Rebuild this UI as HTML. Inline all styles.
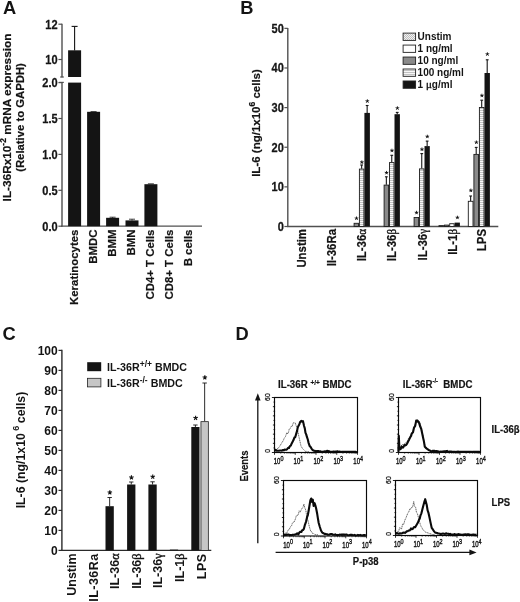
<!DOCTYPE html>
<html><head><meta charset="utf-8"><title>Figure</title>
<style>html,body{margin:0;padding:0;background:#fff;}svg{display:block;will-change:transform;}text{font-family:"Liberation Sans",sans-serif;}</style></head>
<body>
<svg width="520" height="602" viewBox="0 0 520 602">
<rect width="520" height="602" fill="#fff"/>
<defs>
<pattern id="stripe" width="4" height="2" patternUnits="userSpaceOnUse">
  <rect width="4" height="2" fill="#fff"/><rect y="0.2" width="4" height="0.9" fill="#b4b4b4"/>
</pattern>
<pattern id="dots" width="2" height="2" patternUnits="userSpaceOnUse">
  <rect width="2" height="2" fill="#f2f2f2"/><rect width="1" height="1" fill="#bdbdbd"/><rect x="1" y="1" width="1" height="1" fill="#bdbdbd"/>
</pattern>
</defs>
<text font-size="18.3" font-weight="bold" text-anchor="start" fill="#141414" transform="translate(2.9 14.0)" >A</text>
<line x1="62.0" y1="82.4" x2="62.0" y2="226.79999999999998" stroke="#505050" stroke-width="1.4" />
<line x1="62.0" y1="23.8" x2="62.0" y2="77.2" stroke="#505050" stroke-width="1.4" />
<line x1="60.2" y1="77.0" x2="63.8" y2="77.0" stroke="#505050" stroke-width="1.2" />
<line x1="59.2" y1="82.4" x2="63.8" y2="82.4" stroke="#505050" stroke-width="1.2" />
<line x1="58.4" y1="24.2" x2="62.0" y2="24.2" stroke="#505050" stroke-width="1.2" />
<text font-size="12" font-weight="bold" text-anchor="end" fill="#141414" transform="translate(57.6 28.5) scale(0.92 1)"  stroke="#141414" stroke-width="0.25" stroke-linejoin="round">12</text>
<line x1="58.4" y1="59.5" x2="62.0" y2="59.5" stroke="#505050" stroke-width="1.2" />
<text font-size="12" font-weight="bold" text-anchor="end" fill="#141414" transform="translate(57.6 63.8) scale(0.92 1)"  stroke="#141414" stroke-width="0.25" stroke-linejoin="round">10</text>
<line x1="58.4" y1="82.6" x2="62.0" y2="82.6" stroke="#505050" stroke-width="1.2" />
<text font-size="12" font-weight="bold" text-anchor="end" fill="#141414" transform="translate(57.6 86.89999999999999) scale(0.92 1)"  stroke="#141414" stroke-width="0.25" stroke-linejoin="round">2.0</text>
<line x1="58.4" y1="118.5" x2="62.0" y2="118.5" stroke="#505050" stroke-width="1.2" />
<text font-size="12" font-weight="bold" text-anchor="end" fill="#141414" transform="translate(57.6 122.8) scale(0.92 1)"  stroke="#141414" stroke-width="0.25" stroke-linejoin="round">1.5</text>
<line x1="58.4" y1="154.4" x2="62.0" y2="154.4" stroke="#505050" stroke-width="1.2" />
<text font-size="12" font-weight="bold" text-anchor="end" fill="#141414" transform="translate(57.6 158.70000000000002) scale(0.92 1)"  stroke="#141414" stroke-width="0.25" stroke-linejoin="round">1.0</text>
<line x1="58.4" y1="190.3" x2="62.0" y2="190.3" stroke="#505050" stroke-width="1.2" />
<text font-size="12" font-weight="bold" text-anchor="end" fill="#141414" transform="translate(57.6 194.60000000000002) scale(0.92 1)"  stroke="#141414" stroke-width="0.25" stroke-linejoin="round">0.5</text>
<line x1="58.4" y1="226.2" x2="62.0" y2="226.2" stroke="#505050" stroke-width="1.2" />
<text font-size="12" font-weight="bold" text-anchor="end" fill="#141414" transform="translate(57.6 230.5) scale(0.92 1)"  stroke="#141414" stroke-width="0.25" stroke-linejoin="round">0.0</text>
<line x1="61.3" y1="226.2" x2="202" y2="226.2" stroke="#505050" stroke-width="1.3" />
<rect x="68.10" y="50.30" width="13.00" height="26.70" fill="#141414"/>
<rect x="68.10" y="82.60" width="13.00" height="143.60" fill="#141414"/>
<line x1="74.6" y1="26.4" x2="74.6" y2="50.5" stroke="#141414" stroke-width="1.1" />
<line x1="71.6" y1="26.4" x2="77.6" y2="26.4" stroke="#141414" stroke-width="1.1" />
<rect x="87.10" y="111.80" width="13.00" height="114.40" fill="#141414"/>
<line x1="90.6" y1="111.6" x2="96.6" y2="111.6" stroke="#141414" stroke-width="0.8" />
<rect x="106.10" y="217.80" width="13.00" height="8.40" fill="#141414"/>
<line x1="112.6" y1="217.2" x2="112.6" y2="218" stroke="#141414" stroke-width="0.8" />
<line x1="109.6" y1="217.2" x2="115.6" y2="217.2" stroke="#141414" stroke-width="0.8" />
<rect x="125.50" y="220.40" width="13.00" height="5.80" fill="#141414"/>
<line x1="132.0" y1="219.2" x2="132.0" y2="220.6" stroke="#141414" stroke-width="0.8" />
<line x1="129.0" y1="219.2" x2="135.0" y2="219.2" stroke="#141414" stroke-width="0.8" />
<rect x="144.40" y="184.20" width="13.00" height="42.00" fill="#141414"/>
<line x1="147.9" y1="183.8" x2="153.9" y2="183.8" stroke="#141414" stroke-width="0.8" />
<text font-size="11.4" font-weight="bold" text-anchor="end" fill="#141414" transform="translate(78.0 229.6) rotate(-90)"  stroke="#141414" stroke-width="0.2" stroke-linejoin="round">Keratinocytes</text>
<text font-size="11.4" font-weight="bold" text-anchor="end" fill="#141414" transform="translate(97.0 229.6) rotate(-90)"  stroke="#141414" stroke-width="0.2" stroke-linejoin="round">BMDC</text>
<text font-size="11.4" font-weight="bold" text-anchor="end" fill="#141414" transform="translate(116.0 229.6) rotate(-90)"  stroke="#141414" stroke-width="0.2" stroke-linejoin="round">BMM</text>
<text font-size="11.4" font-weight="bold" text-anchor="end" fill="#141414" transform="translate(135.4 229.6) rotate(-90)"  stroke="#141414" stroke-width="0.2" stroke-linejoin="round">BMN</text>
<text font-size="11.4" font-weight="bold" text-anchor="end" fill="#141414" transform="translate(154.3 229.6) rotate(-90)"  stroke="#141414" stroke-width="0.2" stroke-linejoin="round">CD4+ T Cells</text>
<text font-size="11.4" font-weight="bold" text-anchor="end" fill="#141414" transform="translate(173.4 229.6) rotate(-90)"  stroke="#141414" stroke-width="0.2" stroke-linejoin="round">CD8+ T Cells</text>
<text font-size="11.4" font-weight="bold" text-anchor="end" fill="#141414" transform="translate(192.4 229.6) rotate(-90)"  stroke="#141414" stroke-width="0.2" stroke-linejoin="round">B cells</text>
<text font-size="11.8" font-weight="bold" text-anchor="middle" fill="#141414" transform="translate(11.2 117.5) rotate(-90)"  stroke="#141414" stroke-width="0.2" stroke-linejoin="round">IL-36Rx10<tspan font-size="8.5" dy="-5">-2</tspan><tspan dy="5" font-size="1">&#8203;</tspan> mRNA expression</text>
<text font-size="11.3" font-weight="bold" text-anchor="middle" fill="#141414" transform="translate(24.4 117.5) rotate(-90)"  stroke="#141414" stroke-width="0.2" stroke-linejoin="round">(Relative to GAPDH)</text>
<text font-size="18.3" font-weight="bold" text-anchor="start" fill="#141414" transform="translate(240.2 14.0)" >B</text>
<line x1="287.8" y1="28.0" x2="287.8" y2="227.1" stroke="#505050" stroke-width="1.4" />
<line x1="284.40000000000003" y1="226.5" x2="287.8" y2="226.5" stroke="#505050" stroke-width="1.2" />
<text font-size="12" font-weight="bold" text-anchor="end" fill="#141414" transform="translate(283.8 230.8) scale(0.92 1)"  stroke="#141414" stroke-width="0.25" stroke-linejoin="round">0</text>
<line x1="284.40000000000003" y1="186.87" x2="287.8" y2="186.87" stroke="#505050" stroke-width="1.2" />
<text font-size="12" font-weight="bold" text-anchor="end" fill="#141414" transform="translate(283.8 191.17000000000002) scale(0.92 1)"  stroke="#141414" stroke-width="0.25" stroke-linejoin="round">10</text>
<line x1="284.40000000000003" y1="147.24" x2="287.8" y2="147.24" stroke="#505050" stroke-width="1.2" />
<text font-size="12" font-weight="bold" text-anchor="end" fill="#141414" transform="translate(283.8 151.54000000000002) scale(0.92 1)"  stroke="#141414" stroke-width="0.25" stroke-linejoin="round">20</text>
<line x1="284.40000000000003" y1="107.61" x2="287.8" y2="107.61" stroke="#505050" stroke-width="1.2" />
<text font-size="12" font-weight="bold" text-anchor="end" fill="#141414" transform="translate(283.8 111.91) scale(0.92 1)"  stroke="#141414" stroke-width="0.25" stroke-linejoin="round">30</text>
<line x1="284.40000000000003" y1="67.97999999999999" x2="287.8" y2="67.97999999999999" stroke="#505050" stroke-width="1.2" />
<text font-size="12" font-weight="bold" text-anchor="end" fill="#141414" transform="translate(283.8 72.27999999999999) scale(0.92 1)"  stroke="#141414" stroke-width="0.25" stroke-linejoin="round">40</text>
<line x1="284.40000000000003" y1="28.349999999999994" x2="287.8" y2="28.349999999999994" stroke="#505050" stroke-width="1.2" />
<text font-size="12" font-weight="bold" text-anchor="end" fill="#141414" transform="translate(283.8 32.64999999999999) scale(0.92 1)"  stroke="#141414" stroke-width="0.25" stroke-linejoin="round">50</text>
<line x1="287.1" y1="226.5" x2="498.3" y2="226.5" stroke="#505050" stroke-width="1.3" />
<rect x="354.10" y="223.30" width="4.40" height="3.20" fill="#8a8a8a" stroke="#1c1c1c" stroke-width="0.9"/>
<path d="M356.50 218.40L356.50 216.52M356.50 218.40L358.29 217.82M356.50 218.40L357.61 219.92M356.50 218.40L355.39 219.92M356.50 218.40L354.71 217.82" stroke="#141414" stroke-width="0.92" fill="none"/>
<circle cx="356.50" cy="218.40" r="0.72" fill="#141414"/>
<line x1="361.65" y1="165.0" x2="361.65" y2="168.8" stroke="#141414" stroke-width="1.1" />
<line x1="360.25" y1="165.0" x2="363.04999999999995" y2="165.0" stroke="#141414" stroke-width="1.1" />
<rect x="359.40" y="169.10" width="4.50" height="57.40" fill="url(#stripe)" stroke="#1c1c1c" stroke-width="0.9"/>
<path d="M361.85 162.30L361.85 160.42M361.85 162.30L363.64 161.72M361.85 162.30L362.96 163.82M361.85 162.30L360.74 163.82M361.85 162.30L360.06 161.72" stroke="#141414" stroke-width="0.92" fill="none"/>
<circle cx="361.85" cy="162.30" r="0.72" fill="#141414"/>
<line x1="367.15" y1="105.5" x2="367.15" y2="112.9" stroke="#141414" stroke-width="1.1" />
<line x1="365.75" y1="105.5" x2="368.54999999999995" y2="105.5" stroke="#141414" stroke-width="1.1" />
<rect x="364.40" y="112.90" width="5.50" height="113.60" fill="#141414"/>
<path d="M367.35 101.20L367.35 99.32M367.35 101.20L369.14 100.62M367.35 101.20L368.46 102.72M367.35 101.20L366.24 102.72M367.35 101.20L365.56 100.62" stroke="#141414" stroke-width="0.92" fill="none"/>
<circle cx="367.35" cy="101.20" r="0.72" fill="#141414"/>
<line x1="386.35" y1="176.8" x2="386.35" y2="184.8" stroke="#141414" stroke-width="1.1" />
<line x1="384.95000000000005" y1="176.8" x2="387.75" y2="176.8" stroke="#141414" stroke-width="1.1" />
<rect x="384.10" y="185.10" width="4.50" height="41.40" fill="#8a8a8a" stroke="#1c1c1c" stroke-width="0.9"/>
<path d="M386.55 172.80L386.55 170.92M386.55 172.80L388.34 172.22M386.55 172.80L387.66 174.32M386.55 172.80L385.44 174.32M386.55 172.80L384.76 172.22" stroke="#141414" stroke-width="0.92" fill="none"/>
<circle cx="386.55" cy="172.80" r="0.72" fill="#141414"/>
<line x1="391.75" y1="155.3" x2="391.75" y2="162.3" stroke="#141414" stroke-width="1.1" />
<line x1="390.35" y1="155.3" x2="393.15" y2="155.3" stroke="#141414" stroke-width="1.1" />
<rect x="389.50" y="162.60" width="4.50" height="63.90" fill="url(#stripe)" stroke="#1c1c1c" stroke-width="0.9"/>
<path d="M391.95 150.60L391.95 148.72M391.95 150.60L393.74 150.02M391.95 150.60L393.06 152.12M391.95 150.60L390.84 152.12M391.95 150.60L390.16 150.02" stroke="#141414" stroke-width="0.92" fill="none"/>
<circle cx="391.95" cy="150.60" r="0.72" fill="#141414"/>
<line x1="397.2" y1="112.4" x2="397.2" y2="114.2" stroke="#141414" stroke-width="1.1" />
<line x1="395.8" y1="112.4" x2="398.59999999999997" y2="112.4" stroke="#141414" stroke-width="1.1" />
<rect x="394.50" y="114.20" width="5.40" height="112.30" fill="#141414"/>
<path d="M397.40 108.20L397.40 106.32M397.40 108.20L399.19 107.62M397.40 108.20L398.51 109.72M397.40 108.20L396.29 109.72M397.40 108.20L395.61 107.62" stroke="#141414" stroke-width="0.92" fill="none"/>
<circle cx="397.40" cy="108.20" r="0.72" fill="#141414"/>
<rect x="414.10" y="217.50" width="4.50" height="9.00" fill="#8a8a8a" stroke="#1c1c1c" stroke-width="0.9"/>
<path d="M416.55 212.70L416.55 210.82M416.55 212.70L418.34 212.12M416.55 212.70L417.66 214.22M416.55 212.70L415.44 214.22M416.55 212.70L414.76 212.12" stroke="#141414" stroke-width="0.92" fill="none"/>
<circle cx="416.55" cy="212.70" r="0.72" fill="#141414"/>
<line x1="421.75" y1="153.6" x2="421.75" y2="168.6" stroke="#141414" stroke-width="1.1" />
<line x1="420.35" y1="153.6" x2="423.15" y2="153.6" stroke="#141414" stroke-width="1.1" />
<rect x="419.50" y="168.90" width="4.50" height="57.60" fill="url(#stripe)" stroke="#1c1c1c" stroke-width="0.9"/>
<path d="M421.95 149.40L421.95 147.52M421.95 149.40L423.74 148.82M421.95 149.40L423.06 150.92M421.95 149.40L420.84 150.92M421.95 149.40L420.16 148.82" stroke="#141414" stroke-width="0.92" fill="none"/>
<circle cx="421.95" cy="149.40" r="0.72" fill="#141414"/>
<line x1="427.15" y1="141.1" x2="427.15" y2="146.1" stroke="#141414" stroke-width="1.1" />
<line x1="425.75" y1="141.1" x2="428.54999999999995" y2="141.1" stroke="#141414" stroke-width="1.1" />
<rect x="424.50" y="146.10" width="5.30" height="80.40" fill="#141414"/>
<path d="M427.35 136.60L427.35 134.72M427.35 136.60L429.14 136.02M427.35 136.60L428.46 138.12M427.35 136.60L426.24 138.12M427.35 136.60L425.56 136.02" stroke="#141414" stroke-width="0.92" fill="none"/>
<circle cx="427.35" cy="136.60" r="0.72" fill="#141414"/>
<rect x="439.00" y="225.60" width="4.50" height="0.90" fill="#fff" stroke="#1c1c1c" stroke-width="0.9"/>
<rect x="444.40" y="225.10" width="4.40" height="1.40" fill="#8a8a8a" stroke="#1c1c1c" stroke-width="0.9"/>
<rect x="449.70" y="223.70" width="4.40" height="2.80" fill="#fff" stroke="#1c1c1c" stroke-width="0.9"/>
<rect x="454.60" y="222.60" width="5.30" height="3.90" fill="#141414"/>
<path d="M457.45 217.60L457.45 215.72M457.45 217.60L459.24 217.02M457.45 217.60L458.56 219.12M457.45 217.60L456.34 219.12M457.45 217.60L455.66 217.02" stroke="#141414" stroke-width="0.92" fill="none"/>
<circle cx="457.45" cy="217.60" r="0.72" fill="#141414"/>
<line x1="470.65" y1="196.0" x2="470.65" y2="201.0" stroke="#141414" stroke-width="1.1" />
<line x1="469.25" y1="196.0" x2="472.04999999999995" y2="196.0" stroke="#141414" stroke-width="1.1" />
<rect x="468.30" y="201.30" width="4.70" height="25.20" fill="#fff" stroke="#1c1c1c" stroke-width="0.9"/>
<path d="M470.85 190.50L470.85 188.62M470.85 190.50L472.64 189.92M470.85 190.50L471.96 192.02M470.85 190.50L469.74 192.02M470.85 190.50L469.06 189.92" stroke="#141414" stroke-width="0.92" fill="none"/>
<circle cx="470.85" cy="190.50" r="0.72" fill="#141414"/>
<line x1="476.2" y1="147.4" x2="476.2" y2="154.1" stroke="#141414" stroke-width="1.1" />
<line x1="474.8" y1="147.4" x2="477.59999999999997" y2="147.4" stroke="#141414" stroke-width="1.1" />
<rect x="473.90" y="154.40" width="4.60" height="72.10" fill="#8a8a8a" stroke="#1c1c1c" stroke-width="0.9"/>
<path d="M476.40 142.40L476.40 140.52M476.40 142.40L478.19 141.82M476.40 142.40L477.51 143.92M476.40 142.40L475.29 143.92M476.40 142.40L474.61 141.82" stroke="#141414" stroke-width="0.92" fill="none"/>
<circle cx="476.40" cy="142.40" r="0.72" fill="#141414"/>
<line x1="481.7" y1="100.2" x2="481.7" y2="107.2" stroke="#141414" stroke-width="1.1" />
<line x1="480.3" y1="100.2" x2="483.09999999999997" y2="100.2" stroke="#141414" stroke-width="1.1" />
<rect x="479.40" y="107.50" width="4.60" height="119.00" fill="url(#stripe)" stroke="#1c1c1c" stroke-width="0.9"/>
<path d="M481.90 95.60L481.90 93.72M481.90 95.60L483.69 95.02M481.90 95.60L483.01 97.12M481.90 95.60L480.79 97.12M481.90 95.60L480.11 95.02" stroke="#141414" stroke-width="0.92" fill="none"/>
<circle cx="481.90" cy="95.60" r="0.72" fill="#141414"/>
<line x1="487.2" y1="59.8" x2="487.2" y2="73.0" stroke="#141414" stroke-width="1.1" />
<line x1="485.8" y1="59.8" x2="488.59999999999997" y2="59.8" stroke="#141414" stroke-width="1.1" />
<rect x="484.50" y="73.00" width="5.40" height="153.50" fill="#141414"/>
<path d="M487.40 54.20L487.40 52.32M487.40 54.20L489.19 53.62M487.40 54.20L488.51 55.72M487.40 54.20L486.29 55.72M487.40 54.20L485.61 53.62" stroke="#141414" stroke-width="0.92" fill="none"/>
<circle cx="487.40" cy="54.20" r="0.72" fill="#141414"/>
<text font-size="12" font-weight="bold" text-anchor="end" fill="#141414" transform="translate(305.8 229.0) rotate(-90) scale(0.95 1)"  stroke="#141414" stroke-width="0.2" stroke-linejoin="round">Unstim</text>
<text font-size="12" font-weight="bold" text-anchor="end" fill="#141414" transform="translate(335.7 229.0) rotate(-90) scale(0.95 1)"  stroke="#141414" stroke-width="0.2" stroke-linejoin="round">II-36Ra</text>
<text font-size="12" font-weight="bold" text-anchor="end" fill="#141414" transform="translate(366.3 229.0) rotate(-90) scale(0.95 1)"  stroke="#141414" stroke-width="0.2" stroke-linejoin="round">IL-36<tspan font-family="'Liberation Serif', serif" font-weight="normal" font-size="11.6" stroke="#141414" stroke-width="0.4">&#945;</tspan></text>
<text font-size="12" font-weight="bold" text-anchor="end" fill="#141414" transform="translate(396.3 229.0) rotate(-90) scale(0.95 1)"  stroke="#141414" stroke-width="0.2" stroke-linejoin="round">IL-36<tspan font-family="'Liberation Serif', serif" font-weight="normal" font-size="11.6" stroke="#141414" stroke-width="0.4">&#946;</tspan></text>
<text font-size="12" font-weight="bold" text-anchor="end" fill="#141414" transform="translate(426.6 229.0) rotate(-90) scale(0.95 1)"  stroke="#141414" stroke-width="0.2" stroke-linejoin="round">IL-36<tspan font-family="'Liberation Serif', serif" font-weight="normal" font-size="11.6" stroke="#141414" stroke-width="0.4">&#947;</tspan></text>
<text font-size="12" font-weight="bold" text-anchor="end" fill="#141414" transform="translate(456.5 229.0) rotate(-90) scale(0.95 1)"  stroke="#141414" stroke-width="0.2" stroke-linejoin="round">IL-1<tspan font-family="'Liberation Serif', serif" font-weight="normal" font-size="11.6" stroke="#141414" stroke-width="0.4">&#946;</tspan></text>
<text font-size="12" font-weight="bold" text-anchor="end" fill="#141414" transform="translate(486.3 229.0) rotate(-90) scale(0.95 1)"  stroke="#141414" stroke-width="0.2" stroke-linejoin="round">LPS</text>
<text font-size="11.5" font-weight="bold" text-anchor="middle" fill="#141414" transform="translate(259.6 123) rotate(-90)"  stroke="#141414" stroke-width="0.2" stroke-linejoin="round">IL-6 (ng/1x10<tspan font-size="8.5" dy="-5">6</tspan><tspan dy="5" font-size="1">&#8203;</tspan> cells)</text>
<rect x="403.10" y="33.10" width="12.50" height="7.30" fill="url(#dots)" stroke="#222" stroke-width="0.9"/>
<text font-size="10" font-weight="bold" text-anchor="start" fill="#141414" transform="translate(417.6 40.300000000000004)" >Unstim</text>
<rect x="403.10" y="45.07" width="12.50" height="7.30" fill="#fff" stroke="#222" stroke-width="0.9"/>
<text font-size="10" font-weight="bold" text-anchor="start" fill="#141414" transform="translate(417.6 52.27)" >1 ng/ml</text>
<rect x="403.10" y="57.04" width="12.50" height="7.30" fill="#8a8a8a" stroke="#222" stroke-width="0.9"/>
<text font-size="10" font-weight="bold" text-anchor="start" fill="#141414" transform="translate(417.6 64.24)" >10 ng/ml</text>
<rect x="403.10" y="69.01" width="12.50" height="7.30" fill="url(#stripe)" stroke="#222" stroke-width="0.9"/>
<text font-size="10" font-weight="bold" text-anchor="start" fill="#141414" transform="translate(417.6 76.21000000000001)" >100 ng/ml</text>
<rect x="403.10" y="80.98" width="12.50" height="7.30" fill="#141414" stroke="#222" stroke-width="0.9"/>
<text font-size="10" font-weight="bold" text-anchor="start" fill="#141414" transform="translate(417.6 88.18)" >1 <tspan font-family="'Liberation Serif', serif" font-weight="normal" font-size="11" stroke="#141414" stroke-width="0.4">&#956;</tspan>g/ml</text>
<text font-size="18.3" font-weight="bold" text-anchor="start" fill="#141414" transform="translate(2.6 340.3)" >C</text>
<line x1="61.9" y1="349.8" x2="61.9" y2="551.0" stroke="#2a2a2a" stroke-width="1.4" />
<line x1="58.5" y1="550.4" x2="61.9" y2="550.4" stroke="#2a2a2a" stroke-width="1.2" />
<text font-size="12" font-weight="bold" text-anchor="end" fill="#141414" transform="translate(57.699999999999996 554.6999999999999)" >0</text>
<line x1="58.5" y1="530.4" x2="61.9" y2="530.4" stroke="#2a2a2a" stroke-width="1.2" />
<text font-size="12" font-weight="bold" text-anchor="end" fill="#141414" transform="translate(57.699999999999996 534.6999999999999)" >10</text>
<line x1="58.5" y1="510.4" x2="61.9" y2="510.4" stroke="#2a2a2a" stroke-width="1.2" />
<text font-size="12" font-weight="bold" text-anchor="end" fill="#141414" transform="translate(57.699999999999996 514.6999999999999)" >20</text>
<line x1="58.5" y1="490.4" x2="61.9" y2="490.4" stroke="#2a2a2a" stroke-width="1.2" />
<text font-size="12" font-weight="bold" text-anchor="end" fill="#141414" transform="translate(57.699999999999996 494.7)" >30</text>
<line x1="58.5" y1="470.4" x2="61.9" y2="470.4" stroke="#2a2a2a" stroke-width="1.2" />
<text font-size="12" font-weight="bold" text-anchor="end" fill="#141414" transform="translate(57.699999999999996 474.7)" >40</text>
<line x1="58.5" y1="450.4" x2="61.9" y2="450.4" stroke="#2a2a2a" stroke-width="1.2" />
<text font-size="12" font-weight="bold" text-anchor="end" fill="#141414" transform="translate(57.699999999999996 454.7)" >50</text>
<line x1="58.5" y1="430.4" x2="61.9" y2="430.4" stroke="#2a2a2a" stroke-width="1.2" />
<text font-size="12" font-weight="bold" text-anchor="end" fill="#141414" transform="translate(57.699999999999996 434.7)" >60</text>
<line x1="58.5" y1="410.4" x2="61.9" y2="410.4" stroke="#2a2a2a" stroke-width="1.2" />
<text font-size="12" font-weight="bold" text-anchor="end" fill="#141414" transform="translate(57.699999999999996 414.7)" >70</text>
<line x1="58.5" y1="390.4" x2="61.9" y2="390.4" stroke="#2a2a2a" stroke-width="1.2" />
<text font-size="12" font-weight="bold" text-anchor="end" fill="#141414" transform="translate(57.699999999999996 394.7)" >80</text>
<line x1="58.5" y1="370.4" x2="61.9" y2="370.4" stroke="#2a2a2a" stroke-width="1.2" />
<text font-size="12" font-weight="bold" text-anchor="end" fill="#141414" transform="translate(57.699999999999996 374.7)" >90</text>
<line x1="58.5" y1="350.4" x2="61.9" y2="350.4" stroke="#2a2a2a" stroke-width="1.2" />
<text font-size="12" font-weight="bold" text-anchor="end" fill="#141414" transform="translate(57.699999999999996 354.7)" >100</text>
<line x1="61.199999999999996" y1="550.4" x2="211.3" y2="550.4" stroke="#2a2a2a" stroke-width="1.3" />
<line x1="109.65" y1="497.5" x2="109.65" y2="506.2" stroke="#141414" stroke-width="0.9" />
<line x1="107.45" y1="497.5" x2="111.85000000000001" y2="497.5" stroke="#141414" stroke-width="0.9" />
<rect x="105.50" y="506.20" width="8.30" height="44.20" fill="#141414"/>
<path d="M109.85 492.50L109.85 490.15M109.85 492.50L112.08 491.77M109.85 492.50L111.23 494.40M109.85 492.50L108.47 494.40M109.85 492.50L107.62 491.77" stroke="#141414" stroke-width="1.15" fill="none"/>
<circle cx="109.85" cy="492.50" r="0.90" fill="#141414"/>
<line x1="131.25" y1="482.0" x2="131.25" y2="484.5" stroke="#141414" stroke-width="0.9" />
<line x1="129.05" y1="482.0" x2="133.45" y2="482.0" stroke="#141414" stroke-width="0.9" />
<rect x="127.10" y="484.50" width="8.30" height="65.90" fill="#141414"/>
<path d="M131.45 477.50L131.45 475.15M131.45 477.50L133.68 476.77M131.45 477.50L132.83 479.40M131.45 477.50L130.07 479.40M131.45 477.50L129.22 476.77" stroke="#141414" stroke-width="1.15" fill="none"/>
<circle cx="131.45" cy="477.50" r="0.90" fill="#141414"/>
<line x1="152.55" y1="481.8" x2="152.55" y2="484.5" stroke="#141414" stroke-width="0.9" />
<line x1="150.35000000000002" y1="481.8" x2="154.75" y2="481.8" stroke="#141414" stroke-width="0.9" />
<rect x="148.40" y="484.50" width="8.30" height="65.90" fill="#141414"/>
<path d="M152.75 476.80L152.75 474.45M152.75 476.80L154.98 476.07M152.75 476.80L154.13 478.70M152.75 476.80L151.37 478.70M152.75 476.80L150.52 476.07" stroke="#141414" stroke-width="1.15" fill="none"/>
<circle cx="152.75" cy="476.80" r="0.90" fill="#141414"/>
<rect x="169.90" y="549.60" width="8.20" height="0.80" fill="#141414"/>
<line x1="195.4" y1="425.0" x2="195.4" y2="427.0" stroke="#141414" stroke-width="0.9" />
<line x1="193.20000000000002" y1="425.0" x2="197.6" y2="425.0" stroke="#141414" stroke-width="0.9" />
<rect x="191.30" y="427.00" width="8.20" height="123.40" fill="#141414"/>
<path d="M195.60 418.00L195.60 415.65M195.60 418.00L197.83 417.27M195.60 418.00L196.98 419.90M195.60 418.00L194.22 419.90M195.60 418.00L193.37 417.27" stroke="#141414" stroke-width="1.15" fill="none"/>
<circle cx="195.60" cy="418.00" r="0.90" fill="#141414"/>
<line x1="204.64999999999998" y1="383.0" x2="204.64999999999998" y2="421.3" stroke="#141414" stroke-width="0.9" />
<line x1="202.45" y1="383.0" x2="206.84999999999997" y2="383.0" stroke="#141414" stroke-width="0.9" />
<rect x="200.95" y="421.65" width="7.40" height="128.75" fill="#c6c6c6" stroke="#222" stroke-width="0.8"/>
<path d="M204.85 377.50L204.85 375.15M204.85 377.50L207.08 376.77M204.85 377.50L206.23 379.40M204.85 377.50L203.47 379.40M204.85 377.50L202.62 376.77" stroke="#141414" stroke-width="1.15" fill="none"/>
<circle cx="204.85" cy="377.50" r="0.90" fill="#141414"/>
<text font-size="12.5" font-weight="bold" text-anchor="end" fill="#141414" transform="translate(75.9 553.4) rotate(-90)" >Unstim</text>
<text font-size="12.5" font-weight="bold" text-anchor="end" fill="#141414" transform="translate(97.7 553.4) rotate(-90)" ><tspan letter-spacing="0.45">IL-36Ra</tspan></text>
<text font-size="12.5" font-weight="bold" text-anchor="end" fill="#141414" transform="translate(118.80000000000001 553.4) rotate(-90)" >IL-36<tspan font-family="'Liberation Serif', serif" font-weight="normal" font-size="12.3" stroke="#141414" stroke-width="0.4">&#945;</tspan></text>
<text font-size="12.5" font-weight="bold" text-anchor="end" fill="#141414" transform="translate(140.6 553.4) rotate(-90)" >IL-36<tspan font-family="'Liberation Serif', serif" font-weight="normal" font-size="12.3" stroke="#141414" stroke-width="0.4">&#946;</tspan></text>
<text font-size="12.5" font-weight="bold" text-anchor="end" fill="#141414" transform="translate(161.6 553.4) rotate(-90)" >IL-36<tspan font-family="'Liberation Serif', serif" font-weight="normal" font-size="12.3" stroke="#141414" stroke-width="0.4">&#947;</tspan></text>
<text font-size="12.5" font-weight="bold" text-anchor="end" fill="#141414" transform="translate(183.9 553.4) rotate(-90)" >IL-1<tspan font-family="'Liberation Serif', serif" font-weight="normal" font-size="12.3" stroke="#141414" stroke-width="0.4">&#946;</tspan></text>
<text font-size="12.5" font-weight="bold" text-anchor="end" fill="#141414" transform="translate(205.70000000000002 553.4) rotate(-90)" ><tspan letter-spacing="0.5">LPS</tspan></text>
<text font-size="12.3" font-weight="bold" text-anchor="middle" fill="#141414" transform="translate(24.9 450) rotate(-90)" >IL-6 (ng/1x10<tspan font-size="9" dy="-5.5"> 6 </tspan><tspan dy="5.5" font-size="1">&#8203;</tspan>cells)</text>
<rect x="87.20" y="362.20" width="14.00" height="9.00" fill="#141414"/>
<rect x="87.50" y="378.30" width="13.40" height="8.60" fill="#c6c6c6" stroke="#222" stroke-width="0.8"/>
<text font-size="10.7" font-weight="bold" text-anchor="start" fill="#141414" transform="translate(107 370.6)" >IL-36R<tspan font-size="8.5" dy="-4">+/+</tspan><tspan dy="4" font-size="1">&#8203;</tspan> BMDC</text>
<text font-size="10.7" font-weight="bold" text-anchor="start" fill="#141414" transform="translate(107 386.8)" >IL-36R<tspan font-size="8.5" dy="-4">-/-</tspan><tspan dy="4" font-size="1">&#8203;</tspan> BMDC</text>
<text font-size="18.3" font-weight="bold" text-anchor="start" fill="#141414" transform="translate(235.6 340.3)" >D</text>
<text font-size="10.8" font-weight="bold" text-anchor="start" fill="#141414" transform="translate(278.0 387.7) scale(0.9 1)"  stroke="#141414" stroke-width="0.2" stroke-linejoin="round">IL-36R <tspan font-size="7.2" dy="-2.4">+/+</tspan><tspan dy="2.4" font-size="1">&#8203;</tspan> BMDC</text>
<text font-size="10.8" font-weight="bold" text-anchor="start" fill="#141414" transform="translate(402.8 387.6) scale(0.9 1)"  stroke="#141414" stroke-width="0.2" stroke-linejoin="round">IL-36R<tspan font-size="6.4" dy="-4.2">-/-</tspan><tspan dy="4.2" font-size="1">&#8203;</tspan>&#160; BMDC</text>
<text font-size="10.8" font-weight="bold" text-anchor="start" fill="#141414" transform="translate(491.6 433.2) scale(0.88 1)"  stroke="#141414" stroke-width="0.2" stroke-linejoin="round">IL-36&#946;</text>
<text font-size="10.8" font-weight="bold" text-anchor="start" fill="#141414" transform="translate(491.6 505.8) scale(0.88 1)"  stroke="#141414" stroke-width="0.2" stroke-linejoin="round">LPS</text>
<text font-size="10.8" font-weight="bold" text-anchor="start" fill="#141414" transform="translate(352.8 565.4) scale(0.88 1)"  stroke="#141414" stroke-width="0.2" stroke-linejoin="round">P-p38</text>
<text font-size="10.8" font-weight="bold" text-anchor="middle" fill="#141414" transform="translate(247.8 466) rotate(-90) scale(0.88 1)"  stroke="#141414" stroke-width="0.2" stroke-linejoin="round">Events</text>
<line x1="257.8" y1="543.3" x2="257.8" y2="398" stroke="#141414" stroke-width="1.3" />
<polygon points="257.8,393.3 255.0,400.5 260.6,400.5" fill="#141414"/>
<line x1="275.6" y1="552.4" x2="471" y2="552.4" stroke="#141414" stroke-width="1.3" />
<polygon points="476.6,552.4 469.4,549.6 469.4,555.2" fill="#141414"/>
<rect x="274.5" y="397.5" width="83.0" height="55.0" fill="none" stroke="#0a0a0a" stroke-width="1.15"/>
<line x1="271.9" y1="452.5" x2="275.1" y2="452.5" stroke="#0a0a0a" stroke-width="0.9" />
<line x1="273.5" y1="447.9166666666667" x2="275.1" y2="447.9166666666667" stroke="#0a0a0a" stroke-width="0.9" />
<line x1="272.9" y1="443.3333333333333" x2="275.1" y2="443.3333333333333" stroke="#0a0a0a" stroke-width="0.9" />
<line x1="273.5" y1="438.75" x2="275.1" y2="438.75" stroke="#0a0a0a" stroke-width="0.9" />
<line x1="272.9" y1="434.1666666666667" x2="275.1" y2="434.1666666666667" stroke="#0a0a0a" stroke-width="0.9" />
<line x1="273.5" y1="429.5833333333333" x2="275.1" y2="429.5833333333333" stroke="#0a0a0a" stroke-width="0.9" />
<line x1="272.9" y1="425.0" x2="275.1" y2="425.0" stroke="#0a0a0a" stroke-width="0.9" />
<line x1="273.5" y1="420.4166666666667" x2="275.1" y2="420.4166666666667" stroke="#0a0a0a" stroke-width="0.9" />
<line x1="272.9" y1="415.8333333333333" x2="275.1" y2="415.8333333333333" stroke="#0a0a0a" stroke-width="0.9" />
<line x1="273.5" y1="411.25" x2="275.1" y2="411.25" stroke="#0a0a0a" stroke-width="0.9" />
<line x1="272.9" y1="406.6666666666667" x2="275.1" y2="406.6666666666667" stroke="#0a0a0a" stroke-width="0.9" />
<line x1="273.5" y1="402.0833333333333" x2="275.1" y2="402.0833333333333" stroke="#0a0a0a" stroke-width="0.9" />
<line x1="271.9" y1="397.5" x2="275.1" y2="397.5" stroke="#0a0a0a" stroke-width="0.9" />
<line x1="280.7463724100276" y1="452.5" x2="280.7463724100276" y2="453.8" stroke="#0a0a0a" stroke-width="0.55" />
<line x1="284.400266035433" y1="452.5" x2="284.400266035433" y2="453.8" stroke="#0a0a0a" stroke-width="0.55" />
<line x1="286.99274482005524" y1="452.5" x2="286.99274482005524" y2="453.8" stroke="#0a0a0a" stroke-width="0.55" />
<line x1="289.0036275899724" y1="452.5" x2="289.0036275899724" y2="453.8" stroke="#0a0a0a" stroke-width="0.55" />
<line x1="290.6466384454606" y1="452.5" x2="290.6466384454606" y2="453.8" stroke="#0a0a0a" stroke-width="0.55" />
<line x1="292.0357843302958" y1="452.5" x2="292.0357843302958" y2="453.8" stroke="#0a0a0a" stroke-width="0.55" />
<line x1="293.23911723008285" y1="452.5" x2="293.23911723008285" y2="453.8" stroke="#0a0a0a" stroke-width="0.55" />
<line x1="294.300532070866" y1="452.5" x2="294.300532070866" y2="453.8" stroke="#0a0a0a" stroke-width="0.55" />
<line x1="301.4963724100276" y1="452.5" x2="301.4963724100276" y2="453.8" stroke="#0a0a0a" stroke-width="0.55" />
<line x1="305.150266035433" y1="452.5" x2="305.150266035433" y2="453.8" stroke="#0a0a0a" stroke-width="0.55" />
<line x1="307.74274482005524" y1="452.5" x2="307.74274482005524" y2="453.8" stroke="#0a0a0a" stroke-width="0.55" />
<line x1="309.7536275899724" y1="452.5" x2="309.7536275899724" y2="453.8" stroke="#0a0a0a" stroke-width="0.55" />
<line x1="311.3966384454606" y1="452.5" x2="311.3966384454606" y2="453.8" stroke="#0a0a0a" stroke-width="0.55" />
<line x1="312.7857843302958" y1="452.5" x2="312.7857843302958" y2="453.8" stroke="#0a0a0a" stroke-width="0.55" />
<line x1="313.9891172300828" y1="452.5" x2="313.9891172300828" y2="453.8" stroke="#0a0a0a" stroke-width="0.55" />
<line x1="315.050532070866" y1="452.5" x2="315.050532070866" y2="453.8" stroke="#0a0a0a" stroke-width="0.55" />
<line x1="322.2463724100276" y1="452.5" x2="322.2463724100276" y2="453.8" stroke="#0a0a0a" stroke-width="0.55" />
<line x1="325.900266035433" y1="452.5" x2="325.900266035433" y2="453.8" stroke="#0a0a0a" stroke-width="0.55" />
<line x1="328.49274482005524" y1="452.5" x2="328.49274482005524" y2="453.8" stroke="#0a0a0a" stroke-width="0.55" />
<line x1="330.5036275899724" y1="452.5" x2="330.5036275899724" y2="453.8" stroke="#0a0a0a" stroke-width="0.55" />
<line x1="332.1466384454606" y1="452.5" x2="332.1466384454606" y2="453.8" stroke="#0a0a0a" stroke-width="0.55" />
<line x1="333.5357843302958" y1="452.5" x2="333.5357843302958" y2="453.8" stroke="#0a0a0a" stroke-width="0.55" />
<line x1="334.73911723008285" y1="452.5" x2="334.73911723008285" y2="453.8" stroke="#0a0a0a" stroke-width="0.55" />
<line x1="335.800532070866" y1="452.5" x2="335.800532070866" y2="453.8" stroke="#0a0a0a" stroke-width="0.55" />
<line x1="342.9963724100276" y1="452.5" x2="342.9963724100276" y2="453.8" stroke="#0a0a0a" stroke-width="0.55" />
<line x1="346.650266035433" y1="452.5" x2="346.650266035433" y2="453.8" stroke="#0a0a0a" stroke-width="0.55" />
<line x1="349.24274482005524" y1="452.5" x2="349.24274482005524" y2="453.8" stroke="#0a0a0a" stroke-width="0.55" />
<line x1="351.2536275899724" y1="452.5" x2="351.2536275899724" y2="453.8" stroke="#0a0a0a" stroke-width="0.55" />
<line x1="352.8966384454606" y1="452.5" x2="352.8966384454606" y2="453.8" stroke="#0a0a0a" stroke-width="0.55" />
<line x1="354.2857843302958" y1="452.5" x2="354.2857843302958" y2="453.8" stroke="#0a0a0a" stroke-width="0.55" />
<line x1="355.4891172300828" y1="452.5" x2="355.4891172300828" y2="453.8" stroke="#0a0a0a" stroke-width="0.55" />
<line x1="356.550532070866" y1="452.5" x2="356.550532070866" y2="453.8" stroke="#0a0a0a" stroke-width="0.55" />
<line x1="274.5" y1="452.5" x2="274.5" y2="454.8" stroke="#0a0a0a" stroke-width="0.8" />
<text font-size="8.6" fill="#141414" stroke="#141414" stroke-width="0.4" transform="translate(273.7 464.1) scale(0.7 1)">10<tspan font-size="7.8" dy="-3.3">0</tspan></text>
<line x1="295.25" y1="452.5" x2="295.25" y2="454.8" stroke="#0a0a0a" stroke-width="0.8" />
<text font-size="8.6" fill="#141414" stroke="#141414" stroke-width="0.4" transform="translate(293.6 464.1) scale(0.7 1)">10<tspan font-size="7.8" dy="-3.3">1</tspan></text>
<line x1="316.0" y1="452.5" x2="316.0" y2="454.8" stroke="#0a0a0a" stroke-width="0.8" />
<text font-size="8.6" fill="#141414" stroke="#141414" stroke-width="0.4" transform="translate(313.5 464.1) scale(0.7 1)">10<tspan font-size="7.8" dy="-3.3">2</tspan></text>
<line x1="336.75" y1="452.5" x2="336.75" y2="454.8" stroke="#0a0a0a" stroke-width="0.8" />
<text font-size="8.6" fill="#141414" stroke="#141414" stroke-width="0.4" transform="translate(333.4 464.1) scale(0.7 1)">10<tspan font-size="7.8" dy="-3.3">3</tspan></text>
<line x1="357.5" y1="452.5" x2="357.5" y2="454.8" stroke="#0a0a0a" stroke-width="0.8" />
<text font-size="8.6" fill="#141414" stroke="#141414" stroke-width="0.4" transform="translate(353.3 464.1) scale(0.7 1)">10<tspan font-size="7.8" dy="-3.3">4</tspan></text>
<text font-size="8" font-weight="normal" text-anchor="middle" fill="#141414" transform="translate(270.1 397.1) rotate(-90) scale(0.85 1)"  stroke="#141414" stroke-width="0.3" stroke-linejoin="round">60</text>
<text font-size="8" font-weight="normal" text-anchor="middle" fill="#141414" transform="translate(270.1 450.9) rotate(-90) scale(0.85 1)"  stroke="#141414" stroke-width="0.3" stroke-linejoin="round">0</text>
<polyline points="275.0,451.9 276.0,450.5 277.0,449.1 278.0,448.1 279.0,447.4 279.8,446.1 280.5,444.9 281.2,443.9 282.0,442.4 283.2,440.8 284.3,438.0 285.5,436.5 286.8,432.6 287.7,433.9 288.6,432.1 289.2,429.0 290.2,428.5 291.0,426.5 292.2,426.3 293.2,422.8 294.3,422.8 295.3,423.0 296.2,426.0 297.2,428.0 298.0,432.4 299.0,437.0 300.0,441.6 301.0,446.1 301.8,447.4 302.5,448.5 303.2,449.3 304.0,449.8 304.8,450.6 305.5,451.6 306.4,451.3 307.2,451.7 308.1,451.5 309.0,452.0" fill="none" stroke="#3c3c3c" stroke-width="0.8" stroke-linejoin="round" stroke-dasharray="1.2 0.6"/>
<polyline points="274.8,450.0 275.6,449.8 276.5,450.8 277.3,450.8 278.2,450.8 279.0,450.7 280.0,450.5 281.0,450.5 282.0,450.6 283.0,450.0 283.9,450.4 284.7,449.5 285.5,449.8 286.4,449.8 287.3,448.9 288.1,447.9 289.0,448.0 289.9,446.1 290.8,445.6 291.7,443.4 292.6,441.7 293.5,440.1 294.4,437.5 295.2,437.2 296.1,434.1 297.0,431.1 297.8,427.4 298.6,425.6 299.3,424.5 300.0,422.3 301.2,420.9 302.2,421.7 303.0,421.1 304.0,425.8 304.8,428.4 305.5,432.9 306.2,434.4 307.0,437.2 307.8,439.5 308.5,442.6 309.7,446.2 310.6,446.9 311.5,448.6 312.3,449.6 313.2,450.4 314.0,450.8 315.0,450.9 316.0,451.3 317.0,451.0 318.0,451.4 318.8,451.0 319.7,451.7 320.5,451.3 321.3,451.9 322.2,451.9 323.0,451.9 324.0,451.5 325.0,451.3 326.0,451.5 327.0,450.8 328.0,451.0 329.0,451.2 330.0,451.9 331.0,451.7 331.8,451.9 332.7,451.9 333.5,451.6 334.3,451.8 335.2,451.6 336.0,451.8 336.9,451.4 337.8,451.4 338.7,451.7 339.6,451.6 340.5,451.7 341.4,451.9 342.3,451.9 343.2,451.9 344.1,451.9 345.0,451.9 345.9,451.9 346.8,451.9 347.7,451.9 348.6,451.9 349.5,451.9 350.4,451.9 351.4,451.9 352.3,451.9 353.2,451.9 354.1,451.9 355.0,451.9 355.9,451.9 356.8,452.3" fill="none" stroke="#0a0a0a" stroke-width="2.1" stroke-linejoin="round"/>
<rect x="398.5" y="397.5" width="82.0" height="55.0" fill="none" stroke="#0a0a0a" stroke-width="1.15"/>
<line x1="395.9" y1="452.5" x2="399.1" y2="452.5" stroke="#0a0a0a" stroke-width="0.9" />
<line x1="397.5" y1="447.9166666666667" x2="399.1" y2="447.9166666666667" stroke="#0a0a0a" stroke-width="0.9" />
<line x1="396.9" y1="443.3333333333333" x2="399.1" y2="443.3333333333333" stroke="#0a0a0a" stroke-width="0.9" />
<line x1="397.5" y1="438.75" x2="399.1" y2="438.75" stroke="#0a0a0a" stroke-width="0.9" />
<line x1="396.9" y1="434.1666666666667" x2="399.1" y2="434.1666666666667" stroke="#0a0a0a" stroke-width="0.9" />
<line x1="397.5" y1="429.5833333333333" x2="399.1" y2="429.5833333333333" stroke="#0a0a0a" stroke-width="0.9" />
<line x1="396.9" y1="425.0" x2="399.1" y2="425.0" stroke="#0a0a0a" stroke-width="0.9" />
<line x1="397.5" y1="420.4166666666667" x2="399.1" y2="420.4166666666667" stroke="#0a0a0a" stroke-width="0.9" />
<line x1="396.9" y1="415.8333333333333" x2="399.1" y2="415.8333333333333" stroke="#0a0a0a" stroke-width="0.9" />
<line x1="397.5" y1="411.25" x2="399.1" y2="411.25" stroke="#0a0a0a" stroke-width="0.9" />
<line x1="396.9" y1="406.6666666666667" x2="399.1" y2="406.6666666666667" stroke="#0a0a0a" stroke-width="0.9" />
<line x1="397.5" y1="402.0833333333333" x2="399.1" y2="402.0833333333333" stroke="#0a0a0a" stroke-width="0.9" />
<line x1="395.9" y1="397.5" x2="399.1" y2="397.5" stroke="#0a0a0a" stroke-width="0.9" />
<line x1="404.6711149111116" y1="452.5" x2="404.6711149111116" y2="453.8" stroke="#0a0a0a" stroke-width="0.55" />
<line x1="408.2809857217531" y1="452.5" x2="408.2809857217531" y2="453.8" stroke="#0a0a0a" stroke-width="0.55" />
<line x1="410.8422298222232" y1="452.5" x2="410.8422298222232" y2="453.8" stroke="#0a0a0a" stroke-width="0.55" />
<line x1="412.8288850888884" y1="452.5" x2="412.8288850888884" y2="453.8" stroke="#0a0a0a" stroke-width="0.55" />
<line x1="414.4521006328647" y1="452.5" x2="414.4521006328647" y2="453.8" stroke="#0a0a0a" stroke-width="0.55" />
<line x1="415.8245098202923" y1="452.5" x2="415.8245098202923" y2="453.8" stroke="#0a0a0a" stroke-width="0.55" />
<line x1="417.01334473333486" y1="452.5" x2="417.01334473333486" y2="453.8" stroke="#0a0a0a" stroke-width="0.55" />
<line x1="418.06197144350614" y1="452.5" x2="418.06197144350614" y2="453.8" stroke="#0a0a0a" stroke-width="0.55" />
<line x1="425.1711149111116" y1="452.5" x2="425.1711149111116" y2="453.8" stroke="#0a0a0a" stroke-width="0.55" />
<line x1="428.7809857217531" y1="452.5" x2="428.7809857217531" y2="453.8" stroke="#0a0a0a" stroke-width="0.55" />
<line x1="431.3422298222232" y1="452.5" x2="431.3422298222232" y2="453.8" stroke="#0a0a0a" stroke-width="0.55" />
<line x1="433.3288850888884" y1="452.5" x2="433.3288850888884" y2="453.8" stroke="#0a0a0a" stroke-width="0.55" />
<line x1="434.9521006328647" y1="452.5" x2="434.9521006328647" y2="453.8" stroke="#0a0a0a" stroke-width="0.55" />
<line x1="436.3245098202923" y1="452.5" x2="436.3245098202923" y2="453.8" stroke="#0a0a0a" stroke-width="0.55" />
<line x1="437.51334473333486" y1="452.5" x2="437.51334473333486" y2="453.8" stroke="#0a0a0a" stroke-width="0.55" />
<line x1="438.56197144350614" y1="452.5" x2="438.56197144350614" y2="453.8" stroke="#0a0a0a" stroke-width="0.55" />
<line x1="445.6711149111116" y1="452.5" x2="445.6711149111116" y2="453.8" stroke="#0a0a0a" stroke-width="0.55" />
<line x1="449.2809857217531" y1="452.5" x2="449.2809857217531" y2="453.8" stroke="#0a0a0a" stroke-width="0.55" />
<line x1="451.8422298222232" y1="452.5" x2="451.8422298222232" y2="453.8" stroke="#0a0a0a" stroke-width="0.55" />
<line x1="453.8288850888884" y1="452.5" x2="453.8288850888884" y2="453.8" stroke="#0a0a0a" stroke-width="0.55" />
<line x1="455.4521006328647" y1="452.5" x2="455.4521006328647" y2="453.8" stroke="#0a0a0a" stroke-width="0.55" />
<line x1="456.8245098202923" y1="452.5" x2="456.8245098202923" y2="453.8" stroke="#0a0a0a" stroke-width="0.55" />
<line x1="458.01334473333486" y1="452.5" x2="458.01334473333486" y2="453.8" stroke="#0a0a0a" stroke-width="0.55" />
<line x1="459.06197144350614" y1="452.5" x2="459.06197144350614" y2="453.8" stroke="#0a0a0a" stroke-width="0.55" />
<line x1="466.1711149111116" y1="452.5" x2="466.1711149111116" y2="453.8" stroke="#0a0a0a" stroke-width="0.55" />
<line x1="469.7809857217531" y1="452.5" x2="469.7809857217531" y2="453.8" stroke="#0a0a0a" stroke-width="0.55" />
<line x1="472.3422298222232" y1="452.5" x2="472.3422298222232" y2="453.8" stroke="#0a0a0a" stroke-width="0.55" />
<line x1="474.3288850888884" y1="452.5" x2="474.3288850888884" y2="453.8" stroke="#0a0a0a" stroke-width="0.55" />
<line x1="475.9521006328647" y1="452.5" x2="475.9521006328647" y2="453.8" stroke="#0a0a0a" stroke-width="0.55" />
<line x1="477.3245098202923" y1="452.5" x2="477.3245098202923" y2="453.8" stroke="#0a0a0a" stroke-width="0.55" />
<line x1="478.51334473333486" y1="452.5" x2="478.51334473333486" y2="453.8" stroke="#0a0a0a" stroke-width="0.55" />
<line x1="479.56197144350614" y1="452.5" x2="479.56197144350614" y2="453.8" stroke="#0a0a0a" stroke-width="0.55" />
<line x1="398.5" y1="452.5" x2="398.5" y2="454.8" stroke="#0a0a0a" stroke-width="0.8" />
<text font-size="8.6" fill="#141414" stroke="#141414" stroke-width="0.4" transform="translate(395.9 464.1) scale(0.7 1)">10<tspan font-size="7.8" dy="-3.3">0</tspan></text>
<line x1="419.0" y1="452.5" x2="419.0" y2="454.8" stroke="#0a0a0a" stroke-width="0.8" />
<text font-size="8.6" fill="#141414" stroke="#141414" stroke-width="0.4" transform="translate(415.9 464.1) scale(0.7 1)">10<tspan font-size="7.8" dy="-3.3">1</tspan></text>
<line x1="439.5" y1="452.5" x2="439.5" y2="454.8" stroke="#0a0a0a" stroke-width="0.8" />
<text font-size="8.6" fill="#141414" stroke="#141414" stroke-width="0.4" transform="translate(436.0 464.1) scale(0.7 1)">10<tspan font-size="7.8" dy="-3.3">2</tspan></text>
<line x1="460.0" y1="452.5" x2="460.0" y2="454.8" stroke="#0a0a0a" stroke-width="0.8" />
<text font-size="8.6" fill="#141414" stroke="#141414" stroke-width="0.4" transform="translate(456.0 464.1) scale(0.7 1)">10<tspan font-size="7.8" dy="-3.3">3</tspan></text>
<line x1="480.5" y1="452.5" x2="480.5" y2="454.8" stroke="#0a0a0a" stroke-width="0.8" />
<text font-size="8.6" fill="#141414" stroke="#141414" stroke-width="0.4" transform="translate(476.1 464.1) scale(0.7 1)">10<tspan font-size="7.8" dy="-3.3">4</tspan></text>
<text font-size="8" font-weight="normal" text-anchor="middle" fill="#141414" transform="translate(394.1 397.1) rotate(-90) scale(0.85 1)"  stroke="#141414" stroke-width="0.3" stroke-linejoin="round">60</text>
<text font-size="8" font-weight="normal" text-anchor="middle" fill="#141414" transform="translate(394.1 450.9) rotate(-90) scale(0.85 1)"  stroke="#141414" stroke-width="0.3" stroke-linejoin="round">0</text>
<polyline points="399.0,451.0 399.9,449.2 400.8,447.4 401.7,444.9 402.6,444.5 403.6,444.5 404.5,443.5 405.5,443.0 406.5,442.1 407.5,441.3 408.4,438.6 409.4,437.3 410.3,437.0 411.2,434.3 412.1,433.1 413.0,430.9 414.1,426.9 415.2,424.2 416.1,420.2 417.1,421.2 418.1,420.2 419.2,420.8 420.2,423.8 421.2,426.7 422.1,431.9 423.0,435.8 423.9,440.7 424.8,445.4 425.9,446.7 427.0,448.6 428.0,449.1 429.0,450.3 430.0,450.4 431.0,451.0" fill="none" stroke="#3c3c3c" stroke-width="0.8" stroke-linejoin="round" stroke-dasharray="1.2 0.6"/>
<polyline points="398.4,451.9 398.8,435.7 399.4,448.1 400.5,449.2 401.7,446.7 403.0,447.7 403.8,446.2 404.5,445.0 405.2,445.4 406.0,445.1 406.8,444.1 407.5,442.7 408.2,441.3 409.0,439.9 410.3,437.1 411.1,435.9 411.8,433.4 413.0,432.2 414.0,427.8 415.2,425.9 416.2,420.6 417.1,420.4 418.2,421.9 419.2,423.1 420.2,426.6 421.2,428.7 422.0,432.5 423.0,437.2 424.0,441.9 424.8,446.8 425.6,447.6 426.5,448.4 427.5,449.2 428.5,449.9 429.6,450.3 430.6,451.1 431.5,451.2 432.4,450.9 433.3,450.9 434.2,450.8 435.1,451.1 436.0,451.4 436.8,451.1 437.7,451.2 438.5,451.4 439.3,451.7 440.2,451.8 441.0,451.5 441.9,451.9 442.7,451.5 443.6,451.4 444.4,451.2 445.3,451.7 446.1,451.1 447.0,450.9 447.8,451.4 448.7,451.7 449.5,451.5 450.3,451.5 451.2,451.6 452.0,451.9 452.9,451.8 453.7,451.8 454.6,451.9 455.4,451.9 456.3,451.7 457.1,451.9 458.0,451.6 458.9,451.7 459.8,451.7 460.8,451.9 461.7,451.9 462.6,451.9 463.5,451.9 464.5,451.9 465.4,451.8 466.3,451.9 467.2,451.8 468.2,451.9 469.1,451.9 470.0,451.9 470.9,451.9 471.8,451.7 472.7,451.9 473.6,451.9 474.5,451.8 475.5,451.9 476.4,451.8 477.3,451.8 478.2,451.9 479.1,451.9 480.0,452.0" fill="none" stroke="#0a0a0a" stroke-width="2.1" stroke-linejoin="round"/>
<rect x="283.5" y="480.5" width="83.0" height="55.5" fill="none" stroke="#0a0a0a" stroke-width="1.15"/>
<line x1="280.9" y1="536.0" x2="284.1" y2="536.0" stroke="#0a0a0a" stroke-width="0.9" />
<line x1="282.5" y1="531.375" x2="284.1" y2="531.375" stroke="#0a0a0a" stroke-width="0.9" />
<line x1="281.9" y1="526.75" x2="284.1" y2="526.75" stroke="#0a0a0a" stroke-width="0.9" />
<line x1="282.5" y1="522.125" x2="284.1" y2="522.125" stroke="#0a0a0a" stroke-width="0.9" />
<line x1="281.9" y1="517.5" x2="284.1" y2="517.5" stroke="#0a0a0a" stroke-width="0.9" />
<line x1="282.5" y1="512.875" x2="284.1" y2="512.875" stroke="#0a0a0a" stroke-width="0.9" />
<line x1="281.9" y1="508.25" x2="284.1" y2="508.25" stroke="#0a0a0a" stroke-width="0.9" />
<line x1="282.5" y1="503.625" x2="284.1" y2="503.625" stroke="#0a0a0a" stroke-width="0.9" />
<line x1="281.9" y1="499.0" x2="284.1" y2="499.0" stroke="#0a0a0a" stroke-width="0.9" />
<line x1="282.5" y1="494.375" x2="284.1" y2="494.375" stroke="#0a0a0a" stroke-width="0.9" />
<line x1="281.9" y1="489.75" x2="284.1" y2="489.75" stroke="#0a0a0a" stroke-width="0.9" />
<line x1="282.5" y1="485.125" x2="284.1" y2="485.125" stroke="#0a0a0a" stroke-width="0.9" />
<line x1="280.9" y1="480.5" x2="284.1" y2="480.5" stroke="#0a0a0a" stroke-width="0.9" />
<line x1="289.7463724100276" y1="536.0" x2="289.7463724100276" y2="537.3" stroke="#0a0a0a" stroke-width="0.55" />
<line x1="293.400266035433" y1="536.0" x2="293.400266035433" y2="537.3" stroke="#0a0a0a" stroke-width="0.55" />
<line x1="295.99274482005524" y1="536.0" x2="295.99274482005524" y2="537.3" stroke="#0a0a0a" stroke-width="0.55" />
<line x1="298.0036275899724" y1="536.0" x2="298.0036275899724" y2="537.3" stroke="#0a0a0a" stroke-width="0.55" />
<line x1="299.6466384454606" y1="536.0" x2="299.6466384454606" y2="537.3" stroke="#0a0a0a" stroke-width="0.55" />
<line x1="301.0357843302958" y1="536.0" x2="301.0357843302958" y2="537.3" stroke="#0a0a0a" stroke-width="0.55" />
<line x1="302.23911723008285" y1="536.0" x2="302.23911723008285" y2="537.3" stroke="#0a0a0a" stroke-width="0.55" />
<line x1="303.300532070866" y1="536.0" x2="303.300532070866" y2="537.3" stroke="#0a0a0a" stroke-width="0.55" />
<line x1="310.4963724100276" y1="536.0" x2="310.4963724100276" y2="537.3" stroke="#0a0a0a" stroke-width="0.55" />
<line x1="314.150266035433" y1="536.0" x2="314.150266035433" y2="537.3" stroke="#0a0a0a" stroke-width="0.55" />
<line x1="316.74274482005524" y1="536.0" x2="316.74274482005524" y2="537.3" stroke="#0a0a0a" stroke-width="0.55" />
<line x1="318.7536275899724" y1="536.0" x2="318.7536275899724" y2="537.3" stroke="#0a0a0a" stroke-width="0.55" />
<line x1="320.3966384454606" y1="536.0" x2="320.3966384454606" y2="537.3" stroke="#0a0a0a" stroke-width="0.55" />
<line x1="321.7857843302958" y1="536.0" x2="321.7857843302958" y2="537.3" stroke="#0a0a0a" stroke-width="0.55" />
<line x1="322.9891172300828" y1="536.0" x2="322.9891172300828" y2="537.3" stroke="#0a0a0a" stroke-width="0.55" />
<line x1="324.050532070866" y1="536.0" x2="324.050532070866" y2="537.3" stroke="#0a0a0a" stroke-width="0.55" />
<line x1="331.2463724100276" y1="536.0" x2="331.2463724100276" y2="537.3" stroke="#0a0a0a" stroke-width="0.55" />
<line x1="334.900266035433" y1="536.0" x2="334.900266035433" y2="537.3" stroke="#0a0a0a" stroke-width="0.55" />
<line x1="337.49274482005524" y1="536.0" x2="337.49274482005524" y2="537.3" stroke="#0a0a0a" stroke-width="0.55" />
<line x1="339.5036275899724" y1="536.0" x2="339.5036275899724" y2="537.3" stroke="#0a0a0a" stroke-width="0.55" />
<line x1="341.1466384454606" y1="536.0" x2="341.1466384454606" y2="537.3" stroke="#0a0a0a" stroke-width="0.55" />
<line x1="342.5357843302958" y1="536.0" x2="342.5357843302958" y2="537.3" stroke="#0a0a0a" stroke-width="0.55" />
<line x1="343.73911723008285" y1="536.0" x2="343.73911723008285" y2="537.3" stroke="#0a0a0a" stroke-width="0.55" />
<line x1="344.800532070866" y1="536.0" x2="344.800532070866" y2="537.3" stroke="#0a0a0a" stroke-width="0.55" />
<line x1="351.9963724100276" y1="536.0" x2="351.9963724100276" y2="537.3" stroke="#0a0a0a" stroke-width="0.55" />
<line x1="355.650266035433" y1="536.0" x2="355.650266035433" y2="537.3" stroke="#0a0a0a" stroke-width="0.55" />
<line x1="358.24274482005524" y1="536.0" x2="358.24274482005524" y2="537.3" stroke="#0a0a0a" stroke-width="0.55" />
<line x1="360.2536275899724" y1="536.0" x2="360.2536275899724" y2="537.3" stroke="#0a0a0a" stroke-width="0.55" />
<line x1="361.8966384454606" y1="536.0" x2="361.8966384454606" y2="537.3" stroke="#0a0a0a" stroke-width="0.55" />
<line x1="363.2857843302958" y1="536.0" x2="363.2857843302958" y2="537.3" stroke="#0a0a0a" stroke-width="0.55" />
<line x1="364.4891172300828" y1="536.0" x2="364.4891172300828" y2="537.3" stroke="#0a0a0a" stroke-width="0.55" />
<line x1="365.550532070866" y1="536.0" x2="365.550532070866" y2="537.3" stroke="#0a0a0a" stroke-width="0.55" />
<line x1="283.5" y1="536.0" x2="283.5" y2="538.3" stroke="#0a0a0a" stroke-width="0.8" />
<text font-size="8.6" fill="#141414" stroke="#141414" stroke-width="0.4" transform="translate(283.2 547.6) scale(0.7 1)">10<tspan font-size="7.8" dy="-3.3">0</tspan></text>
<line x1="304.25" y1="536.0" x2="304.25" y2="538.3" stroke="#0a0a0a" stroke-width="0.8" />
<text font-size="8.6" fill="#141414" stroke="#141414" stroke-width="0.4" transform="translate(302.9 547.6) scale(0.7 1)">10<tspan font-size="7.8" dy="-3.3">1</tspan></text>
<line x1="325.0" y1="536.0" x2="325.0" y2="538.3" stroke="#0a0a0a" stroke-width="0.8" />
<text font-size="8.6" fill="#141414" stroke="#141414" stroke-width="0.4" transform="translate(322.6 547.6) scale(0.7 1)">10<tspan font-size="7.8" dy="-3.3">2</tspan></text>
<line x1="345.75" y1="536.0" x2="345.75" y2="538.3" stroke="#0a0a0a" stroke-width="0.8" />
<text font-size="8.6" fill="#141414" stroke="#141414" stroke-width="0.4" transform="translate(342.3 547.6) scale(0.7 1)">10<tspan font-size="7.8" dy="-3.3">3</tspan></text>
<line x1="366.5" y1="536.0" x2="366.5" y2="538.3" stroke="#0a0a0a" stroke-width="0.8" />
<text font-size="8.6" fill="#141414" stroke="#141414" stroke-width="0.4" transform="translate(362.0 547.6) scale(0.7 1)">10<tspan font-size="7.8" dy="-3.3">4</tspan></text>
<text font-size="8" font-weight="normal" text-anchor="middle" fill="#141414" transform="translate(279.1 480.1) rotate(-90) scale(0.85 1)"  stroke="#141414" stroke-width="0.3" stroke-linejoin="round">60</text>
<text font-size="8" font-weight="normal" text-anchor="middle" fill="#141414" transform="translate(279.1 534.4) rotate(-90) scale(0.85 1)"  stroke="#141414" stroke-width="0.3" stroke-linejoin="round">0</text>
<polyline points="283.5,535.0 284.2,534.1 285.0,532.9 285.8,533.1 286.5,534.0 287.2,531.8 288.0,530.1 289.2,529.6 290.4,526.8 291.6,525.8 292.3,523.3 293.0,522.3 294.2,522.0 295.5,518.7 296.3,515.7 297.1,515.3 298.2,515.1 299.2,510.8 300.2,512.1 301.2,509.9 302.2,508.2 303.0,507.2 303.9,504.1 304.8,507.9 305.8,510.2 307.0,518.1 308.0,520.5 309.2,526.1 309.9,528.6 310.6,530.9 311.3,531.1 312.0,532.9 312.9,533.5 313.7,533.5 314.6,534.5 315.5,534.5 316.3,534.8 317.1,534.6 318.0,535.0" fill="none" stroke="#3c3c3c" stroke-width="0.8" stroke-linejoin="round" stroke-dasharray="1.2 0.6"/>
<polyline points="283.2,534.8 284.2,535.1 285.1,534.7 286.1,534.9 287.0,534.7 288.0,534.6 288.8,534.6 289.7,535.0 290.5,535.0 291.3,535.2 292.2,534.9 293.0,534.8 294.0,534.8 295.0,534.5 296.0,534.2 297.2,533.3 298.4,534.4 299.2,532.8 300.0,531.9 300.8,531.8 301.5,531.9 302.2,530.2 303.0,530.0 303.9,528.8 305.0,524.6 306.0,521.8 307.0,517.4 307.9,514.8 308.8,509.8 309.6,504.8 310.4,500.2 311.2,498.5 312.0,501.9 312.8,499.7 313.6,505.9 314.6,503.2 315.4,505.5 316.1,508.3 317.0,512.7 317.9,518.4 318.7,523.0 319.8,526.8 321.0,530.5 322.2,532.6 323.0,533.0 323.7,533.4 324.5,533.9 325.4,533.9 326.2,534.1 327.1,534.3 328.0,534.7 329.0,534.7 330.0,534.3 331.0,534.0 332.0,534.0 332.8,534.6 333.7,534.7 334.5,534.8 335.3,534.4 336.2,535.0 337.0,535.1 337.9,534.9 338.7,535.1 339.6,534.6 340.4,534.7 341.3,534.5 342.1,535.0 343.0,534.4 343.9,534.9 344.8,534.6 345.6,534.8 346.5,534.5 347.4,534.9 348.2,535.2 349.1,535.3 350.0,534.9 350.9,534.9 351.8,534.8 352.6,535.0 353.5,535.2 354.4,534.9 355.3,535.4 356.1,535.4 357.0,535.2 357.9,534.9 358.8,535.3 359.7,535.1 360.5,534.9 361.4,535.2 362.3,535.4 363.2,535.3 364.0,535.0 364.9,535.1 365.8,535.2" fill="none" stroke="#0a0a0a" stroke-width="2.1" stroke-linejoin="round"/>
<rect x="395.5" y="480.5" width="82.0" height="55.0" fill="none" stroke="#0a0a0a" stroke-width="1.15"/>
<line x1="392.9" y1="535.5" x2="396.1" y2="535.5" stroke="#0a0a0a" stroke-width="0.9" />
<line x1="394.5" y1="530.9166666666666" x2="396.1" y2="530.9166666666666" stroke="#0a0a0a" stroke-width="0.9" />
<line x1="393.9" y1="526.3333333333334" x2="396.1" y2="526.3333333333334" stroke="#0a0a0a" stroke-width="0.9" />
<line x1="394.5" y1="521.75" x2="396.1" y2="521.75" stroke="#0a0a0a" stroke-width="0.9" />
<line x1="393.9" y1="517.1666666666666" x2="396.1" y2="517.1666666666666" stroke="#0a0a0a" stroke-width="0.9" />
<line x1="394.5" y1="512.5833333333334" x2="396.1" y2="512.5833333333334" stroke="#0a0a0a" stroke-width="0.9" />
<line x1="393.9" y1="508.0" x2="396.1" y2="508.0" stroke="#0a0a0a" stroke-width="0.9" />
<line x1="394.5" y1="503.4166666666667" x2="396.1" y2="503.4166666666667" stroke="#0a0a0a" stroke-width="0.9" />
<line x1="393.9" y1="498.8333333333333" x2="396.1" y2="498.8333333333333" stroke="#0a0a0a" stroke-width="0.9" />
<line x1="394.5" y1="494.25" x2="396.1" y2="494.25" stroke="#0a0a0a" stroke-width="0.9" />
<line x1="393.9" y1="489.6666666666667" x2="396.1" y2="489.6666666666667" stroke="#0a0a0a" stroke-width="0.9" />
<line x1="394.5" y1="485.0833333333333" x2="396.1" y2="485.0833333333333" stroke="#0a0a0a" stroke-width="0.9" />
<line x1="392.9" y1="480.5" x2="396.1" y2="480.5" stroke="#0a0a0a" stroke-width="0.9" />
<line x1="401.6711149111116" y1="535.5" x2="401.6711149111116" y2="536.8" stroke="#0a0a0a" stroke-width="0.55" />
<line x1="405.2809857217531" y1="535.5" x2="405.2809857217531" y2="536.8" stroke="#0a0a0a" stroke-width="0.55" />
<line x1="407.8422298222232" y1="535.5" x2="407.8422298222232" y2="536.8" stroke="#0a0a0a" stroke-width="0.55" />
<line x1="409.8288850888884" y1="535.5" x2="409.8288850888884" y2="536.8" stroke="#0a0a0a" stroke-width="0.55" />
<line x1="411.4521006328647" y1="535.5" x2="411.4521006328647" y2="536.8" stroke="#0a0a0a" stroke-width="0.55" />
<line x1="412.8245098202923" y1="535.5" x2="412.8245098202923" y2="536.8" stroke="#0a0a0a" stroke-width="0.55" />
<line x1="414.01334473333486" y1="535.5" x2="414.01334473333486" y2="536.8" stroke="#0a0a0a" stroke-width="0.55" />
<line x1="415.06197144350614" y1="535.5" x2="415.06197144350614" y2="536.8" stroke="#0a0a0a" stroke-width="0.55" />
<line x1="422.1711149111116" y1="535.5" x2="422.1711149111116" y2="536.8" stroke="#0a0a0a" stroke-width="0.55" />
<line x1="425.7809857217531" y1="535.5" x2="425.7809857217531" y2="536.8" stroke="#0a0a0a" stroke-width="0.55" />
<line x1="428.3422298222232" y1="535.5" x2="428.3422298222232" y2="536.8" stroke="#0a0a0a" stroke-width="0.55" />
<line x1="430.3288850888884" y1="535.5" x2="430.3288850888884" y2="536.8" stroke="#0a0a0a" stroke-width="0.55" />
<line x1="431.9521006328647" y1="535.5" x2="431.9521006328647" y2="536.8" stroke="#0a0a0a" stroke-width="0.55" />
<line x1="433.3245098202923" y1="535.5" x2="433.3245098202923" y2="536.8" stroke="#0a0a0a" stroke-width="0.55" />
<line x1="434.51334473333486" y1="535.5" x2="434.51334473333486" y2="536.8" stroke="#0a0a0a" stroke-width="0.55" />
<line x1="435.56197144350614" y1="535.5" x2="435.56197144350614" y2="536.8" stroke="#0a0a0a" stroke-width="0.55" />
<line x1="442.6711149111116" y1="535.5" x2="442.6711149111116" y2="536.8" stroke="#0a0a0a" stroke-width="0.55" />
<line x1="446.2809857217531" y1="535.5" x2="446.2809857217531" y2="536.8" stroke="#0a0a0a" stroke-width="0.55" />
<line x1="448.8422298222232" y1="535.5" x2="448.8422298222232" y2="536.8" stroke="#0a0a0a" stroke-width="0.55" />
<line x1="450.8288850888884" y1="535.5" x2="450.8288850888884" y2="536.8" stroke="#0a0a0a" stroke-width="0.55" />
<line x1="452.4521006328647" y1="535.5" x2="452.4521006328647" y2="536.8" stroke="#0a0a0a" stroke-width="0.55" />
<line x1="453.8245098202923" y1="535.5" x2="453.8245098202923" y2="536.8" stroke="#0a0a0a" stroke-width="0.55" />
<line x1="455.01334473333486" y1="535.5" x2="455.01334473333486" y2="536.8" stroke="#0a0a0a" stroke-width="0.55" />
<line x1="456.06197144350614" y1="535.5" x2="456.06197144350614" y2="536.8" stroke="#0a0a0a" stroke-width="0.55" />
<line x1="463.1711149111116" y1="535.5" x2="463.1711149111116" y2="536.8" stroke="#0a0a0a" stroke-width="0.55" />
<line x1="466.7809857217531" y1="535.5" x2="466.7809857217531" y2="536.8" stroke="#0a0a0a" stroke-width="0.55" />
<line x1="469.3422298222232" y1="535.5" x2="469.3422298222232" y2="536.8" stroke="#0a0a0a" stroke-width="0.55" />
<line x1="471.3288850888884" y1="535.5" x2="471.3288850888884" y2="536.8" stroke="#0a0a0a" stroke-width="0.55" />
<line x1="472.9521006328647" y1="535.5" x2="472.9521006328647" y2="536.8" stroke="#0a0a0a" stroke-width="0.55" />
<line x1="474.3245098202923" y1="535.5" x2="474.3245098202923" y2="536.8" stroke="#0a0a0a" stroke-width="0.55" />
<line x1="475.51334473333486" y1="535.5" x2="475.51334473333486" y2="536.8" stroke="#0a0a0a" stroke-width="0.55" />
<line x1="476.56197144350614" y1="535.5" x2="476.56197144350614" y2="536.8" stroke="#0a0a0a" stroke-width="0.55" />
<line x1="395.5" y1="535.5" x2="395.5" y2="537.8" stroke="#0a0a0a" stroke-width="0.8" />
<text font-size="8.6" fill="#141414" stroke="#141414" stroke-width="0.4" transform="translate(393.9 547.1) scale(0.7 1)">10<tspan font-size="7.8" dy="-3.3">0</tspan></text>
<line x1="416.0" y1="535.5" x2="416.0" y2="537.8" stroke="#0a0a0a" stroke-width="0.8" />
<text font-size="8.6" fill="#141414" stroke="#141414" stroke-width="0.4" transform="translate(413.4 547.1) scale(0.7 1)">10<tspan font-size="7.8" dy="-3.3">1</tspan></text>
<line x1="436.5" y1="535.5" x2="436.5" y2="537.8" stroke="#0a0a0a" stroke-width="0.8" />
<text font-size="8.6" fill="#141414" stroke="#141414" stroke-width="0.4" transform="translate(432.9 547.1) scale(0.7 1)">10<tspan font-size="7.8" dy="-3.3">2</tspan></text>
<line x1="457.0" y1="535.5" x2="457.0" y2="537.8" stroke="#0a0a0a" stroke-width="0.8" />
<text font-size="8.6" fill="#141414" stroke="#141414" stroke-width="0.4" transform="translate(452.4 547.1) scale(0.7 1)">10<tspan font-size="7.8" dy="-3.3">3</tspan></text>
<line x1="477.5" y1="535.5" x2="477.5" y2="537.8" stroke="#0a0a0a" stroke-width="0.8" />
<text font-size="8.6" fill="#141414" stroke="#141414" stroke-width="0.4" transform="translate(471.9 547.1) scale(0.7 1)">10<tspan font-size="7.8" dy="-3.3">4</tspan></text>
<text font-size="8" font-weight="normal" text-anchor="middle" fill="#141414" transform="translate(391.1 480.1) rotate(-90) scale(0.85 1)"  stroke="#141414" stroke-width="0.3" stroke-linejoin="round">60</text>
<text font-size="8" font-weight="normal" text-anchor="middle" fill="#141414" transform="translate(391.1 533.9) rotate(-90) scale(0.85 1)"  stroke="#141414" stroke-width="0.3" stroke-linejoin="round">0</text>
<polyline points="396.2,534.9 397.5,531.4 398.5,532.1 399.6,527.7 400.4,527.8 401.5,529.3 402.6,523.8 403.8,524.3 404.8,520.2 405.8,518.3 406.8,515.7 407.8,513.2 408.8,511.8 409.8,508.7 410.8,509.1 411.8,506.9 412.8,506.9 413.7,501.5 414.6,506.3 415.6,507.0 416.4,512.1 417.4,513.7 418.4,517.3 419.4,521.3 420.4,524.7 421.2,526.7 422.0,527.8 422.8,529.7 423.6,530.1 424.4,531.0 425.3,532.1 426.1,532.3 427.0,532.7 428.0,532.9 429.0,533.3 430.0,533.9 431.0,533.8 432.0,534.6 433.0,534.7 434.0,534.3 435.0,534.8" fill="none" stroke="#3c3c3c" stroke-width="0.8" stroke-linejoin="round" stroke-dasharray="1.2 0.6"/>
<polyline points="396.0,533.2 397.0,533.1 398.0,533.7 399.0,533.8 400.0,533.3 401.0,533.6 402.0,533.3 403.0,532.8 404.0,532.5 405.0,532.9 405.8,532.2 406.7,531.4 407.5,531.3 408.6,530.5 409.6,530.4 410.3,529.7 411.0,528.4 411.8,529.2 412.5,529.0 413.2,528.2 414.0,527.1 415.2,527.2 416.5,525.0 417.8,522.8 419.0,519.8 419.7,518.7 420.4,515.7 421.4,513.3 422.4,509.3 423.3,505.8 424.2,502.4 425.2,499.2 426.0,502.3 426.8,505.3 427.6,510.3 428.5,512.9 429.4,517.0 430.4,521.9 431.7,527.9 433.0,529.7 434.1,531.4 435.2,532.6 436.1,532.7 437.1,533.0 438.0,533.5 439.0,533.5 440.0,533.9 441.0,534.1 442.0,533.8 443.0,533.6 444.0,533.8 445.0,534.0 446.0,533.3 446.8,533.7 447.7,533.8 448.5,533.8 449.3,534.2 450.2,533.9 451.0,534.4 451.9,534.6 452.8,534.6 453.6,534.7 454.5,534.1 455.4,534.4 456.2,534.6 457.1,534.4 458.0,534.2 458.9,534.1 459.8,534.6 460.7,534.5 461.5,534.7 462.4,534.7 463.3,534.5 464.2,534.6 465.1,534.2 466.0,534.7 466.9,534.4 467.7,534.4 468.6,534.3 469.5,534.6 470.4,534.8 471.3,534.8 472.2,534.8 473.1,534.6 473.9,534.6 474.8,534.7 475.7,534.8 476.6,534.6" fill="none" stroke="#0a0a0a" stroke-width="2.1" stroke-linejoin="round"/>
</svg>
</body></html>
